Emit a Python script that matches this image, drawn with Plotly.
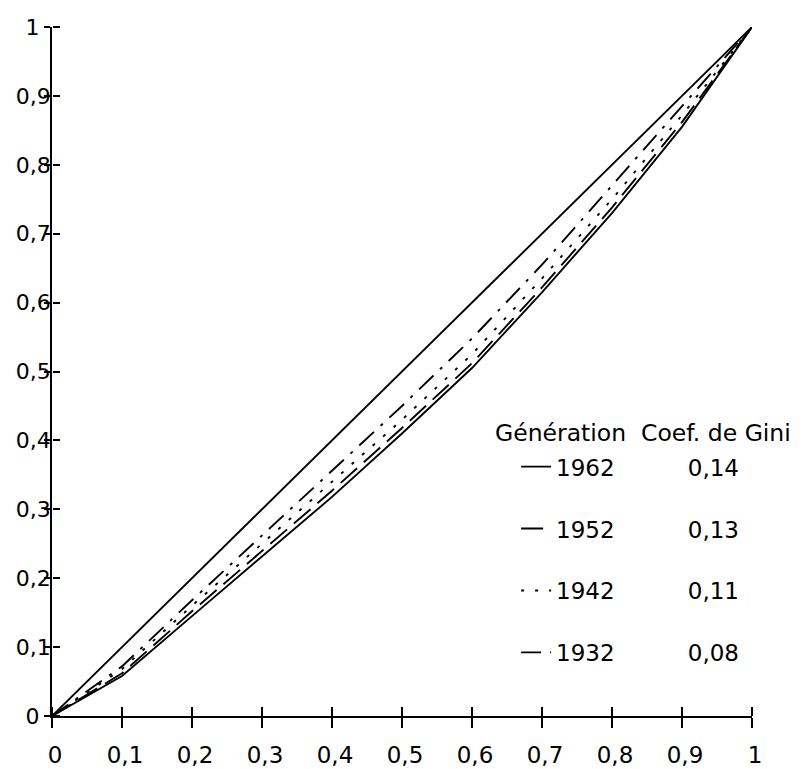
import plotly.graph_objects as go

# Cumulative population share (deciles)
pop_share = [0, 0.1, 0.2, 0.3, 0.4, 0.5, 0.6, 0.7, 0.8, 0.9, 1]

# Cumulative share per generation
lorenz_1962 = [0, 0.058, 0.145, 0.232, 0.318, 0.410, 0.505, 0.615, 0.730, 0.855, 1]
lorenz_1952 = [0, 0.062, 0.152, 0.240, 0.327, 0.418, 0.512, 0.622, 0.738, 0.862, 1]
lorenz_1942 = [0, 0.068, 0.160, 0.250, 0.340, 0.430, 0.525, 0.635, 0.750, 0.872, 1]
lorenz_1932 = [0, 0.072, 0.168, 0.262, 0.355, 0.450, 0.548, 0.655, 0.770, 0.885, 1]

equality_x = [0, 1]
equality_y = [0, 1]

generations = ["1962", "1952", "1942", "1932"]
gini = ["0,14", "0,13", "0,11", "0,08"]
series = [lorenz_1962, lorenz_1952, lorenz_1942, lorenz_1932]
dashes = ["solid", "22px,9px", "3px,11px", "20px,9px,3px,9px"]

tick_vals = [0, 0.1, 0.2, 0.3, 0.4, 0.5, 0.6, 0.7, 0.8, 0.9, 1]
tick_text = ["0", "0,1", "0,2", "0,3", "0,4", "0,5", "0,6", "0,7", "0,8", "0,9", "1"]

FONT = "DejaVu Sans"
NB = "\u00a0"
THIN = "\u2009"

# y labels look centred in the reference: pad the one-character labels
y_tick_text = [t + NB + THIN if len(t) == 1 else t for t in tick_text]

fig = go.Figure()

fig.add_trace(go.Scatter(x=equality_x, y=equality_y, mode="lines",
                         line=dict(color="black", width=1.9),
                         showlegend=False, xaxis="x2", yaxis="y2", hoverinfo="skip"))

for i, (g, gc, ys, d) in enumerate(zip(generations, gini, series, dashes)):
    fig.add_trace(go.Scatter(
        x=pop_share, y=ys, mode="lines",
        line=dict(color="black", width=1.9, dash=d),
        name=g + NB * 10 + gc, legendgroup=g,
    ))

axis_common = dict(range=[0, 1], tickvals=tick_vals, showgrid=False, zeroline=False,
                   automargin=False)

fig.update_layout(
    width=805, height=769,
    margin=dict(l=52, r=53, t=27, b=53),
    paper_bgcolor="white", plot_bgcolor="white",
    font=dict(family=FONT, color="black", size=22),
    xaxis=dict(**axis_common, ticktext=tick_text, showline=True, linecolor="black",
               linewidth=1.6, ticks="outside", ticklen=10, tickwidth=1.6, tickcolor="black",
               ticklabelstandoff=8, ticklabelshift=3,
               tickfont=dict(family=FONT, size=23)),
    yaxis=dict(**axis_common, ticktext=y_tick_text, showline=True, linecolor="black",
               linewidth=1.6, ticks="outside", ticklen=6, tickwidth=1.6, tickcolor="black",
               ticklabelstandoff=-11,
               tickfont=dict(family=FONT, size=22)),
    # companion axes drawing the other half of each crossing tick
    xaxis2=dict(**axis_common, overlaying="x", anchor="free", position=0, side="top",
                ticks="outside", ticklen=9, tickwidth=1.6, tickcolor="black",
                showticklabels=False, showline=False),
    yaxis2=dict(**axis_common, overlaying="y", anchor="free", position=0, side="right",
                ticks="outside", ticklen=7, tickwidth=1.6, tickcolor="black",
                showticklabels=False, showline=False),
    legend=dict(x=0.663, y=0.393, xanchor="left", yanchor="top",
                bgcolor="rgba(0,0,0,0)", tracegroupgap=29,
                font=dict(family=FONT, size=23), itemwidth=30),
    annotations=[dict(text="Génération" + NB + NB + "Coef. de Gini", xref="paper", yref="paper",
                      x=0.63, y=0.388, xanchor="left", yanchor="bottom", showarrow=False,
                      font=dict(family=FONT, size=23.5))],
)

fig.write_html("out.html")
